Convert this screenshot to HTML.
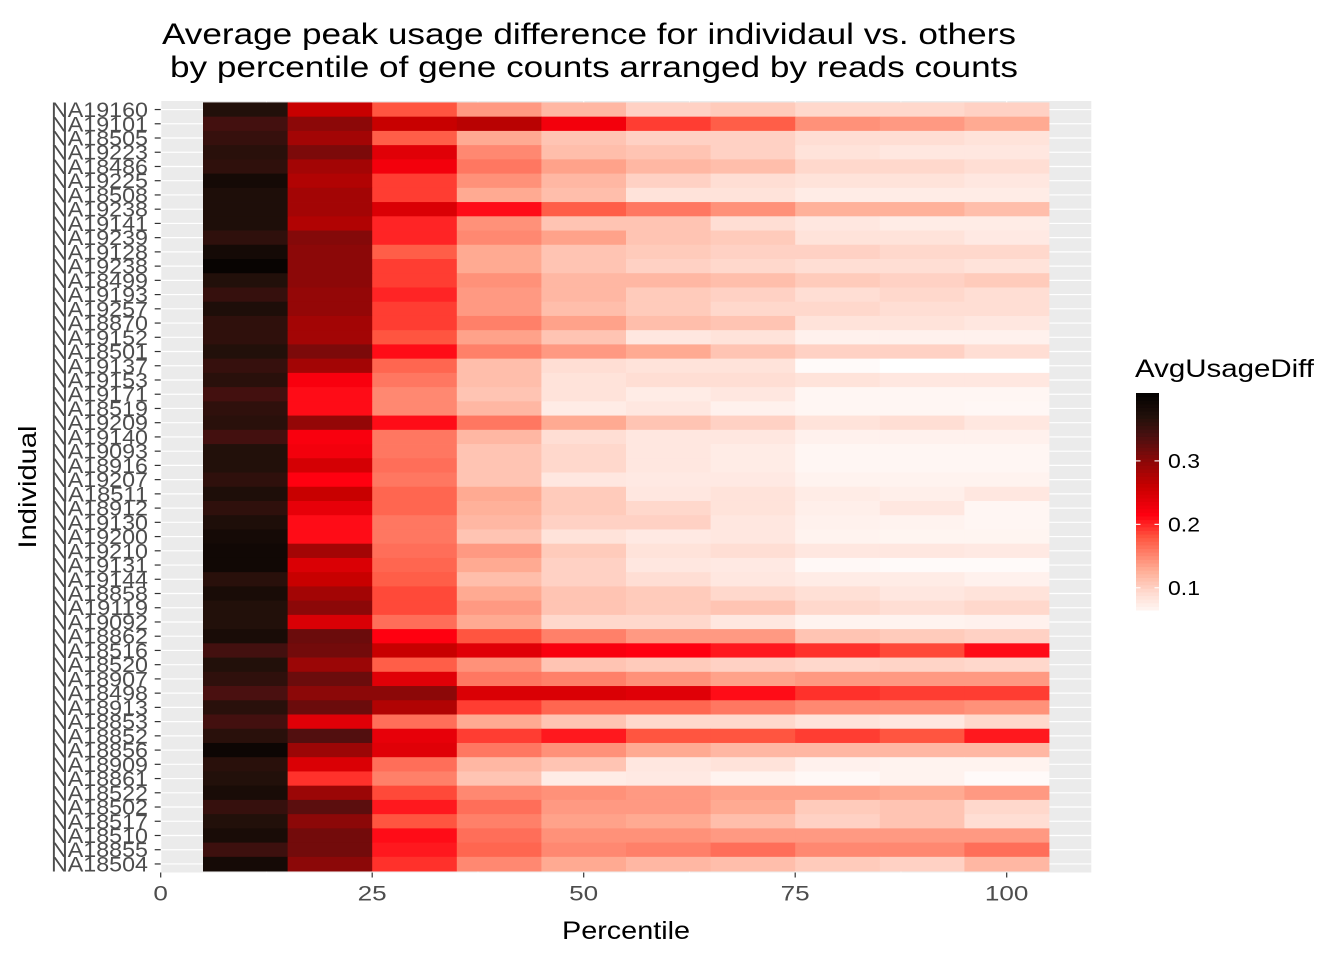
<!DOCTYPE html>
<html><head><meta charset="utf-8"><style>
body{margin:0;background:#fff;}
svg{display:block;font-family:"Liberation Sans",Arial,sans-serif;}
</style></head><body>
<svg id="chart" width="1344" height="960" viewBox="0 0 1344 960" xmlns="http://www.w3.org/2000/svg">
<text x="589" y="44" font-size="30" text-anchor="middle" fill="#000" textLength="854" lengthAdjust="spacingAndGlyphs">Average peak usage difference for individaul vs. others</text>
<text x="594" y="77" font-size="30" text-anchor="middle" fill="#000" textLength="848" lengthAdjust="spacingAndGlyphs">by percentile of gene counts arranged by reads counts</text>
<text x="626" y="939" font-size="25" text-anchor="middle" fill="#000" textLength="128" lengthAdjust="spacingAndGlyphs">Percentile</text>
<text transform="translate(36,487) rotate(-90)" font-size="25" text-anchor="middle" fill="#000" textLength="123" lengthAdjust="spacingAndGlyphs">Individual</text>
<g id="panel"></g>
<g id="legend"></g>
</svg>
<script>
const individuals = ["NA19160","NA19101","NA18505","NA19223","NA18486","NA19225","NA18508","NA19238","NA19141","NA19239","NA19128","NA19238","NA18499","NA19193","NA19257","NA18870","NA19152","NA18501","NA19137","NA19153","NA19171","NA18519","NA19209","NA19140","NA19093","NA18916","NA19207","NA18511","NA18912","NA19130","NA19200","NA19210","NA19131","NA19144","NA18858","NA19119","NA19092","NA18862","NA18516","NA18520","NA18907","NA18498","NA18913","NA18853","NA18852","NA18856","NA18909","NA18861","NA18522","NA18502","NA18517","NA18510","NA18855","NA18504"];
const percentiles = [10,20,30,40,50,60,70,80,90,100];
const xTicks = [0,25,50,75,100];
const legendTicks = [0.1,0.2,0.3];
const usageDiff = [
[0.37,0.26,0.18,0.14,0.12,0.10,0.105,0.095,0.095,0.10],
[0.345,0.30,0.26,0.27,0.225,0.19,0.175,0.145,0.14,0.13],
[0.355,0.285,0.175,0.13,0.11,0.10,0.10,0.09,0.09,0.085],
[0.365,0.31,0.24,0.15,0.115,0.11,0.10,0.085,0.08,0.08],
[0.36,0.285,0.225,0.16,0.135,0.12,0.115,0.095,0.095,0.09],
[0.385,0.275,0.19,0.145,0.12,0.10,0.09,0.085,0.085,0.08],
[0.375,0.285,0.19,0.13,0.115,0.085,0.085,0.075,0.075,0.075],
[0.375,0.285,0.245,0.21,0.175,0.16,0.145,0.125,0.125,0.115],
[0.375,0.275,0.20,0.145,0.11,0.11,0.09,0.08,0.075,0.075],
[0.36,0.305,0.20,0.15,0.135,0.11,0.105,0.085,0.085,0.078],
[0.385,0.30,0.175,0.13,0.11,0.105,0.10,0.10,0.095,0.095],
[0.40,0.30,0.19,0.13,0.11,0.10,0.095,0.09,0.09,0.085],
[0.37,0.30,0.19,0.145,0.12,0.12,0.115,0.105,0.10,0.105],
[0.355,0.295,0.20,0.14,0.12,0.105,0.10,0.09,0.095,0.09],
[0.375,0.295,0.19,0.14,0.115,0.105,0.095,0.095,0.09,0.09],
[0.36,0.285,0.19,0.155,0.135,0.115,0.11,0.085,0.085,0.08],
[0.36,0.285,0.18,0.135,0.11,0.08,0.085,0.07,0.07,0.07],
[0.37,0.31,0.21,0.155,0.14,0.13,0.11,0.10,0.10,0.09],
[0.355,0.285,0.17,0.115,0.09,0.085,0.085,0.06,0.055,0.055],
[0.365,0.22,0.16,0.115,0.085,0.09,0.09,0.085,0.08,0.08],
[0.345,0.21,0.15,0.11,0.085,0.075,0.08,0.065,0.065,0.065],
[0.36,0.21,0.15,0.12,0.075,0.08,0.07,0.065,0.065,0.063],
[0.365,0.295,0.21,0.16,0.13,0.11,0.10,0.085,0.09,0.08],
[0.345,0.22,0.16,0.12,0.09,0.08,0.08,0.07,0.07,0.07],
[0.37,0.225,0.16,0.11,0.095,0.08,0.075,0.065,0.065,0.065],
[0.37,0.25,0.165,0.11,0.095,0.08,0.075,0.065,0.065,0.065],
[0.36,0.215,0.16,0.11,0.08,0.078,0.078,0.068,0.068,0.068],
[0.375,0.26,0.17,0.13,0.105,0.08,0.085,0.075,0.072,0.08],
[0.36,0.235,0.17,0.125,0.105,0.095,0.085,0.072,0.08,0.065],
[0.375,0.21,0.16,0.12,0.10,0.10,0.08,0.07,0.068,0.065],
[0.385,0.21,0.16,0.11,0.085,0.078,0.08,0.068,0.066,0.066],
[0.39,0.285,0.165,0.14,0.105,0.085,0.09,0.08,0.08,0.078],
[0.39,0.245,0.17,0.13,0.10,0.08,0.078,0.062,0.06,0.06],
[0.365,0.26,0.175,0.115,0.10,0.09,0.08,0.075,0.075,0.07],
[0.38,0.285,0.185,0.13,0.11,0.105,0.095,0.088,0.08,0.085],
[0.37,0.30,0.185,0.14,0.11,0.105,0.11,0.095,0.09,0.095],
[0.37,0.245,0.165,0.13,0.095,0.095,0.08,0.068,0.068,0.07],
[0.38,0.32,0.215,0.18,0.155,0.14,0.14,0.11,0.105,0.10],
[0.345,0.315,0.26,0.24,0.22,0.215,0.205,0.195,0.185,0.21],
[0.37,0.29,0.175,0.145,0.11,0.105,0.10,0.095,0.098,0.095],
[0.36,0.32,0.24,0.16,0.155,0.145,0.135,0.14,0.14,0.14],
[0.34,0.30,0.30,0.245,0.245,0.24,0.21,0.195,0.19,0.19],
[0.365,0.32,0.275,0.19,0.17,0.17,0.16,0.15,0.15,0.145],
[0.345,0.24,0.165,0.13,0.11,0.095,0.095,0.085,0.08,0.095],
[0.365,0.335,0.235,0.19,0.205,0.18,0.18,0.19,0.18,0.205],
[0.395,0.29,0.24,0.16,0.145,0.13,0.12,0.12,0.12,0.12],
[0.365,0.245,0.165,0.12,0.11,0.08,0.085,0.07,0.068,0.068],
[0.37,0.195,0.155,0.11,0.075,0.078,0.068,0.062,0.068,0.06],
[0.38,0.29,0.185,0.15,0.145,0.14,0.135,0.135,0.13,0.14],
[0.355,0.33,0.205,0.165,0.14,0.14,0.13,0.105,0.11,0.095],
[0.37,0.30,0.18,0.155,0.135,0.13,0.115,0.10,0.11,0.09],
[0.38,0.315,0.21,0.165,0.145,0.145,0.14,0.14,0.14,0.14],
[0.35,0.315,0.205,0.17,0.15,0.155,0.165,0.15,0.15,0.165],
[0.385,0.30,0.195,0.15,0.13,0.12,0.115,0.105,0.10,0.12]
];

const NS="http://www.w3.org/2000/svg";
function mk(tag, attrs, parent){const e=document.createElementNS(NS,tag);for(const k in attrs)e.setAttribute(k,attrs[k]);parent.appendChild(e);return e;}

const stops=[[0.055,[255,255,255]],[0.09,[255,222,212]],[0.13,[255,170,146]],[0.18,[255,85,64]],[0.215,[255,0,16]],[0.26,[200,0,0]],[0.30,[140,8,8]],[0.34,[74,16,16]],[0.37,[34,16,10]],[0.41,[0,0,0]]];
function color(v){
  if(v<=stops[0][0])return "rgb(255,255,255)";
  for(let i=1;i<stops.length;i++){
    if(v<=stops[i][0]){const a=stops[i-1],b=stops[i];const t=(v-a[0])/(b[0]-a[0]);
      const c=a[1].map((x,j)=>Math.round(x+(b[1][j]-x)*t));return `rgb(${c[0]},${c[1]},${c[2]})`;}
  }
  return "rgb(0,0,0)";
}

const PL=160.7, PR=1091.3, PT=101, PB=872.5;
const xScale=v=>PL+(v/110)*(PR-PL);
const nRows=individuals.length;
const rowH=(PB-PT)/(nRows-1+1.2);
const yScale=i=>PT+(0.6+i)*rowH;

const panel=document.getElementById('panel');
const bg=mk('rect',{x:PL,y:PT,width:PR-PL,height:PB-PT,fill:'#ebebeb'},panel);


for(let i=0;i<xTicks.length-1;i++){
  const m=(xTicks[i]+xTicks[i+1])/2;
  const l=mk('line',{x1:xScale(m),x2:xScale(m),y1:PT,y2:PB,stroke:'#fff','stroke-width':0.6},panel);
  
  
}
xTicks.forEach(t=>{
  const l=mk('line',{x1:xScale(t),x2:xScale(t),y1:PT,y2:PB,stroke:'#fff','stroke-width':1.2},panel);
  
  
});
individuals.forEach((n,i)=>{
  const l=mk('line',{x1:PL,x2:PR,y1:yScale(i),y2:yScale(i),stroke:'#fff','stroke-width':1.2},panel);
  
  
});
usageDiff.forEach((row,i)=>{
  row.forEach((v,j)=>{
    const p=percentiles[j];
    const x0=xScale(p-5), x1=xScale(p+5);
    const r=mk('rect',{x:x0,y:yScale(i)-rowH/2,width:x1-x0+0.4,height:rowH+0.4,fill:color(v)},panel);
    
    
  });
});
individuals.forEach((n,i)=>{
  const tk=mk('line',{x1:PL-6,x2:PL,y1:yScale(i),y2:yScale(i),stroke:'#333','stroke-width':1.2},panel);
  
  
  const t=mk('text',{x:148,y:yScale(i)+7.5,'font-size':21,'text-anchor':'end',fill:'#4d4d4d',textLength:97,lengthAdjust:'spacingAndGlyphs'},panel);
  t.textContent=n;
  
  
});
xTicks.forEach(v=>{
  const tk=mk('line',{x1:xScale(v),x2:xScale(v),y1:PB,y2:PB+5,stroke:'#333','stroke-width':1.2},panel);
  
  
  const s=String(v);
  const t=mk('text',{x:xScale(v),y:PB+28,'font-size':21,'text-anchor':'middle',fill:'#4d4d4d',textLength:14.5*s.length,lengthAdjust:'spacingAndGlyphs'},panel);
  t.textContent=s;
  
  
});

const lg=document.getElementById('legend');
const LT=393, LB=610, LX=1136, LW=23, LMIN=0.065, LMAX=0.407;
const lScale=v=>LB-(v-LMIN)/(LMAX-LMIN)*(LB-LT);
const lt=mk('text',{x:1135,y:377,'font-size':25,fill:'#000',textLength:179,lengthAdjust:'spacingAndGlyphs'},lg);
lt.textContent='AvgUsageDiff';


const steps=60;
for(let s=0;s<steps;s++){
  const v0=LMIN+(LMAX-LMIN)*s/steps, v1=LMIN+(LMAX-LMIN)*(s+1)/steps;
  const r=mk('rect',{x:LX,y:lScale(v1),width:LW,height:lScale(v0)-lScale(v1)+0.5,fill:color((v0+v1)/2)},lg);
  
  
}
legendTicks.forEach(v=>{
  const y=lScale(v);
  const a=mk('line',{x1:LX,x2:LX+4.5,y1:y,y2:y,stroke:'#fff','stroke-width':1.1},lg);
  
  
  const b=mk('line',{x1:LX+LW-4.5,x2:LX+LW,y1:y,y2:y,stroke:'#fff','stroke-width':1.1},lg);
  
  
  const t=mk('text',{x:1168,y:y+7,'font-size':20,fill:'#000',textLength:32,lengthAdjust:'spacingAndGlyphs'},lg);
  t.textContent=String(v);
  
  
});
</script>
</body></html>
